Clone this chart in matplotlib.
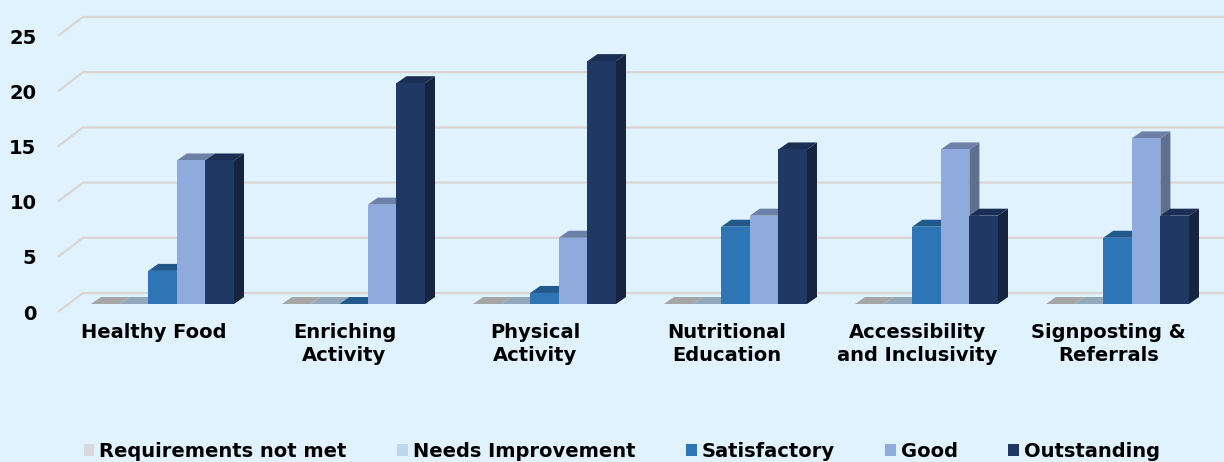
import matplotlib.pyplot as plt
from matplotlib.patches import Polygon, Patch

categories = ['Healthy Food', 'Enriching\nActivity', 'Physical\nActivity',
              'Nutritional\nEducation', 'Accessibility\nand Inclusivity',
              'Signposting &\nReferrals']
series = ['Requirements not met', 'Needs Improvement', 'Satisfactory',
          'Good', 'Outstanding']
not_met = [0, 0, 0, 0, 0, 0]
needs_improvement = [0, 0, 0, 0, 0, 0]
satisfactory = [3, 0, 1, 7, 7, 6]
good = [13, 9, 6, 8, 14, 15]
outstanding = [13, 20, 22, 14, 8, 8]
values = [not_met, needs_improvement, satisfactory, good, outstanding]

# front / top / side shades for each series
front_colors = ['#d9d9d9', '#bdd7ee', '#2e75b6', '#8faadc', '#203864']
top_colors = ['#a6a6a6', '#93a9ba', '#22598c', '#6c80a8', '#1b2e54']
side_colors = ['#8c8c8c', '#7f94a6', '#1d4c78', '#5e6f90', '#16243f']

bg = '#dff2fd'
grid_color = '#dbd6d1'
font = 'DejaVu Sans'
fs = 14

W, H = 1224, 462
fig = plt.figure(figsize=(W / 100, H / 100), dpi=100, facecolor=bg)
ax_l, ax_b, ax_w, ax_h = 58, 150, 1146, 276
ax = fig.add_axes([ax_l / W, ax_b / H, ax_w / W, ax_h / H])
ax.set_facecolor(bg)
ax.set_xlim(-0.5, len(categories) - 0.5)
ax.set_ylim(0, 25)

# pixel -> data unit helpers for the fake 3D offsets
xpp = ax_w / len(categories)
ypp = ax_h / 25.0
wall_dx, wall_dy = 25 / xpp, 19 / ypp
shift_dx, shift_dy = 9 / xpp, 8 / ypp
depth_dx, depth_dy = 10 / xpp, 7 / ypp
bar_w = 28.6 / xpp

# back wall grid lines with the floor/side diagonal
for v in range(0, 26, 5):
    ax.plot([-0.5, -0.5 + wall_dx, len(categories) - 0.5 + wall_dx],
            [v, v + wall_dy, v + wall_dy], color=grid_color, lw=1.6,
            clip_on=False, zorder=1, solid_capstyle='butt')

z = 2
for ci in range(len(categories)):
    for si in range(len(series)):
        val = values[si][ci]
        x0 = ci + shift_dx + (si - 2.5) * bar_w
        x1 = x0 + bar_w
        base = shift_dy
        top = base + val
        ax.add_patch(Polygon([(x0, top), (x1, top), (x1 + depth_dx, top + depth_dy),
                              (x0 + depth_dx, top + depth_dy)],
                             closed=True, facecolor=top_colors[si], lw=0,
                             clip_on=False, zorder=z))
        if val > 0:
            ax.add_patch(Polygon([(x1, base), (x1 + depth_dx, base + depth_dy),
                                  (x1 + depth_dx, top + depth_dy), (x1, top)],
                                 closed=True, facecolor=side_colors[si], lw=0,
                                 clip_on=False, zorder=z))
            ax.bar(x0, val, width=bar_w, bottom=base, align='edge',
                   color=front_colors[si], lw=0, zorder=z + 0.5, clip_on=False)
        z += 1

for s in ax.spines.values():
    s.set_visible(False)
ax.set_yticks(range(0, 26, 5))
ax.set_yticklabels([str(v) for v in range(0, 26, 5)], fontsize=fs,
                   fontweight='bold', family=font)
ax.set_xticks(range(len(categories)))
ax.set_xticklabels(categories, fontsize=fs, fontweight='bold', family=font,
                   linespacing=1.25)
ax.tick_params(axis='y', length=0, pad=15.5)
ax.tick_params(axis='x', length=0, pad=8)

handles = [Patch(facecolor=c, edgecolor='none') for c in front_colors]
fig.legend(handles, series, loc='lower center', bbox_to_anchor=(0.508, -0.036),
           ncol=5, frameon=False, handlelength=0.55, handleheight=0.55,
           handletextpad=0.25, columnspacing=2.6,
           prop={'family': font, 'weight': 'bold', 'size': fs})

fig.savefig('out.png', dpi=100, facecolor=bg)
